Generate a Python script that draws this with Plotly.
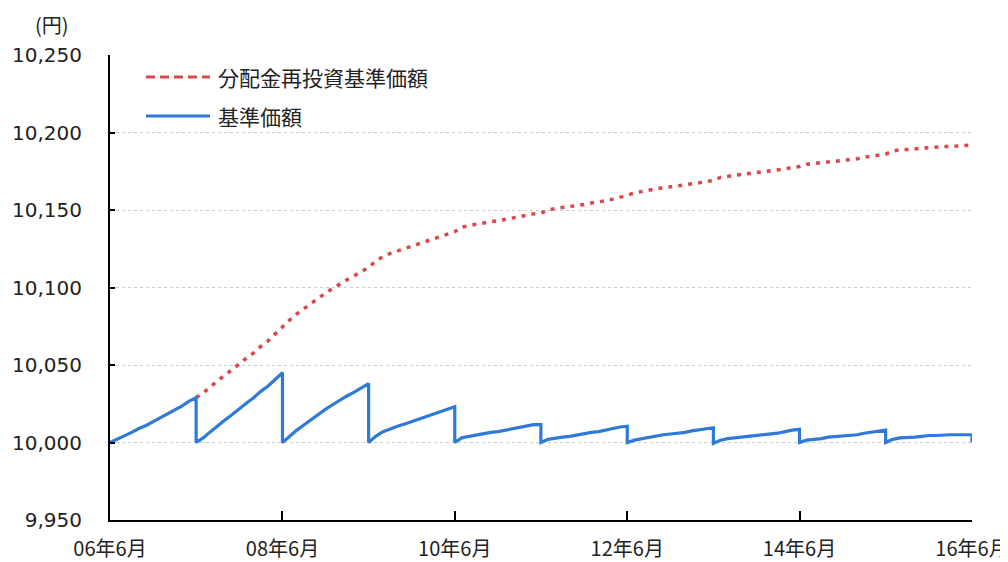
import plotly.graph_objects as go
import pandas as pd

# ---- data ----
year_starts = ["2006-06-01", "2007-06-01", "2008-06-01", "2009-06-01", "2010-06-01",
               "2011-06-01", "2012-06-01", "2013-06-01", "2014-06-01", "2015-06-01"]

# 基準価額: monthly values for each distribution year (month 0 .. month 12)
nav_y1 = [10000, 10002, 10004, 10006.5, 10009, 10011, 10013.5, 10016, 10018.5, 10021, 10023.5, 10026.5, 10029]
nav_y2 = [10000, 10003, 10007, 10011, 10014.5, 10018, 10022, 10025.5, 10029, 10033, 10036.5, 10041, 10045]
nav_y3 = [10000, 10004, 10008, 10011.5, 10015, 10018.5, 10021.5, 10024.5, 10027.5, 10030, 10032.5, 10035, 10038]
nav_y4 = [10000, 10004, 10007, 10009, 10010.5, 10012, 10013.5, 10015, 10016.5, 10018, 10019.5, 10021, 10023]
nav_y5 = [10000, 10003, 10004, 10005, 10005.5, 10006.5, 10007, 10008, 10009, 10009.5, 10010.5, 10011.5, 10011.5]
nav_y6 = [10000, 10002, 10003, 10003.5, 10004, 10005, 10005.5, 10006.5, 10007, 10008, 10009, 10010, 10010.5]
nav_y7 = [10000, 10001.5, 10002.5, 10003.5, 10004, 10005, 10005.5, 10006, 10006.5, 10007.5, 10008, 10009, 10009.5]
nav_y8 = [9999.5, 10001.5, 10002.5, 10003, 10003.5, 10004, 10004.5, 10005, 10005.5, 10006, 10007, 10008, 10008.5]
nav_y9 = [10000, 10001.5, 10002, 10002.5, 10003.5, 10004, 10004.5, 10005, 10005, 10006, 10006.5, 10007.5, 10008]
nav_y10 = [10000, 10002, 10003, 10003, 10003.5, 10004, 10004.5, 10004.5, 10005, 10005, 10005, 10005, 10005]
nav_final = 10000  # after the June 2016 distribution

# 分配金再投資基準価額: monthly values from 2007-06
reinv_y2 = [10029, 10032, 10036, 10040, 10043.5, 10047, 10051, 10054.5, 10058, 10062, 10065.5, 10070, 10075]
reinv_y3 = [10079, 10083, 10086.5, 10090, 10093.5, 10096.5, 10099.5, 10102.5, 10105, 10107.5, 10110, 10113]
reinv_y4 = [10117, 10120, 10122, 10123.5, 10125, 10126.5, 10128, 10129.5, 10131, 10132.5, 10134, 10136]
reinv_y5 = [10139, 10140, 10141, 10141.5, 10142.5, 10143, 10144, 10145, 10145.5, 10146.5, 10147.5, 10148]
reinv_y6 = [10150, 10151, 10151.5, 10152, 10153, 10153.5, 10154.5, 10155, 10156, 10157, 10158, 10159.5]
reinv_y7 = [10161, 10162, 10163, 10163.5, 10164.5, 10165, 10165.5, 10166, 10167, 10167.5, 10168.5, 10169]
reinv_y8 = [10171, 10172, 10172.5, 10173, 10173.5, 10174, 10174.5, 10175, 10175.5, 10176.5, 10177.5, 10178]
reinv_y9 = [10179.5, 10180, 10180.5, 10181.5, 10182, 10182.5, 10183, 10183, 10184, 10184.5, 10185.5, 10186]
reinv_y10 = [10188, 10189, 10189, 10189.5, 10190, 10190.5, 10190.5, 10191, 10191, 10191.5, 10191.5, 10192]

tick_dates = ["2006-06-01", "2008-06-01", "2010-06-01", "2012-06-01", "2014-06-01", "2016-06-01"]
tick_labels = ["06年6月", "08年6月", "10年6月", "12年6月", "14年6月", "16年6月"]
y_ticks = [9950, 10000, 10050, 10100, 10150, 10200, 10250]

# ---- assemble series ----
nav_years = [nav_y1, nav_y2, nav_y3, nav_y4, nav_y5, nav_y6, nav_y7, nav_y8, nav_y9, nav_y10]
nav_x, nav_v = [], []
for start, vals in zip(year_starts, nav_years):
    months = pd.date_range(start, periods=13, freq="MS")
    nav_x.extend(months)
    nav_v.extend(vals)
nav_x.append(pd.Timestamp("2016-06-01"))
nav_v.append(nav_final)

reinv_years = [reinv_y2, reinv_y3, reinv_y4, reinv_y5, reinv_y6, reinv_y7, reinv_y8, reinv_y9, reinv_y10]
reinv_x, reinv_v = [], []
for i, (start, vals) in enumerate(zip(year_starts[1:], reinv_years)):
    months = pd.date_range(start, periods=13, freq="MS")
    if i == 0:
        reinv_x.extend(months)
    else:
        reinv_x.extend(months[1:])
    reinv_v.extend(vals)

RED = "#d9484a"
BLUE = "#2f7ad6"

fig = go.Figure()
fig.add_trace(go.Scatter(x=reinv_x, y=reinv_v, mode="lines", name="分配金再投資基準価額",
                         line=dict(color=RED, width=3.5, dash="4px,6px"), showlegend=False))
fig.add_trace(go.Scatter(x=nav_x, y=nav_v, mode="lines", name="基準価額",
                         line=dict(color=BLUE, width=3.2), showlegend=False))

# page has an 8px body margin, so the figure is drawn 8px in from the top-left
OFF = 8
W, H = 1008 - OFF, 562 - OFF
L, T = 110 - OFF, 55 - OFF
R = W - (972 - OFF)
B = H - (520 - OFF)
pw, ph = W - L - R, H - T - B

def px(xp):
    return (xp - OFF - L) / pw

def py(yp):
    return (H - B - (yp - OFF)) / ph

# manual legend
fig.add_shape(type="line", xref="paper", yref="paper", x0=px(146), x1=px(210), y0=py(77), y1=py(77),
              line=dict(color=RED, width=3, dash="9px,5px"))
fig.add_shape(type="line", xref="paper", yref="paper", x0=px(146), x1=px(210), y0=py(116), y1=py(116),
              line=dict(color=BLUE, width=3))
fig.add_annotation(xref="paper", yref="paper", x=px(216), y=py(77), text="分配金再投資基準価額",
                   showarrow=False, xanchor="left", yanchor="middle",
                   font=dict(family="Noto Sans CJK JP", size=21, color="#222222"))
fig.add_annotation(xref="paper", yref="paper", x=px(216), y=py(116), text="基準価額",
                   showarrow=False, xanchor="left", yanchor="middle",
                   font=dict(family="Noto Sans CJK JP", size=21, color="#222222"))
fig.add_annotation(xref="paper", yref="paper", x=px(52), y=py(24), text="(円)",
                   showarrow=False, xanchor="center", yanchor="middle",
                   font=dict(family="Noto Sans CJK JP", size=20, color="#222222"))

fig.update_layout(
    width=W, height=H,
    margin=dict(l=L, r=R, t=T, b=B, autoexpand=False),
    paper_bgcolor="white", plot_bgcolor="white",
    showlegend=False,
)
fig.update_xaxes(
    type="date", range=["2006-06-01", "2016-06-01"],
    tickvals=tick_dates, ticktext=tick_labels,
    ticks="inside", ticklen=9, tickwidth=1.5, tickcolor="#000",
    showline=True, linecolor="#000", linewidth=2,
    showgrid=False, zeroline=False, automargin=False,
    ticklabeloverflow="allow",
    tickfont=dict(family="Noto Sans CJK JP", size=20, color="#222222"),
    ticklabelstandoff=10,
)
fig.update_yaxes(
    range=[9950, 10250], tickvals=y_ticks,
    ticktext=[f"{v:,}" for v in y_ticks],
    ticks="inside", ticklen=5, tickwidth=1.5, tickcolor="#000",
    showline=True, linecolor="#000", linewidth=2,
    showgrid=True, gridcolor="#c9c9c9", gridwidth=1, griddash="dot",
    zeroline=False, automargin=False,
    ticklabeloverflow="allow",
    tickfont=dict(family="DejaVu Sans", size=20, color="#222222"),
    ticklabelstandoff=22,
)

fig.write_html("out.html")
